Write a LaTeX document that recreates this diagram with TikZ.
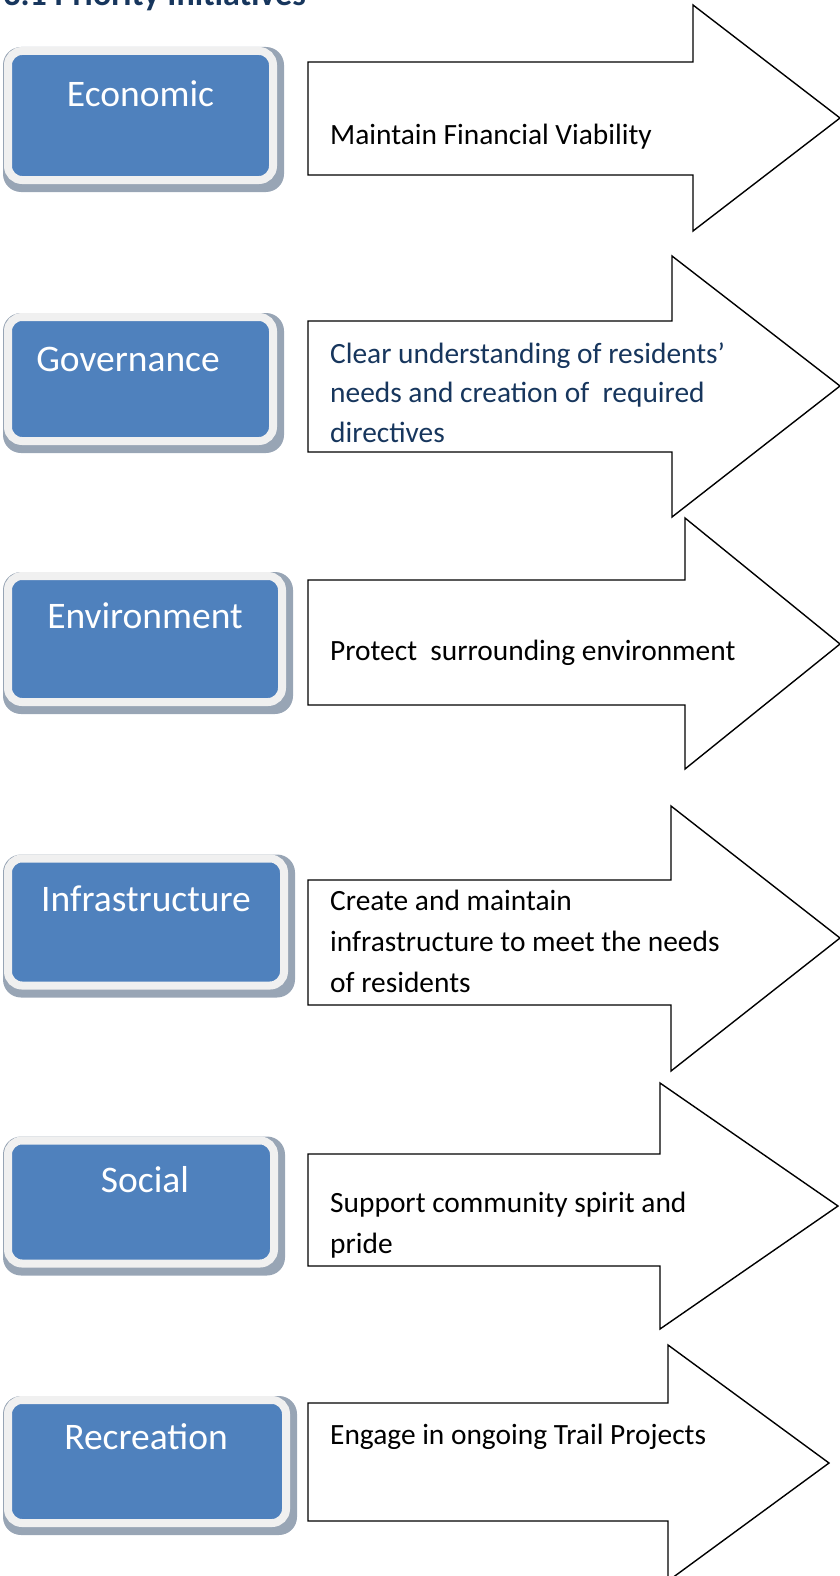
\documentclass[tikz,border=0pt]{standalone}
\usepackage{fontspec}
\setmainfont{Carlito}
\usetikzlibrary{calc,backgrounds}
\definecolor{boxblue}{HTML}{4F81BD}
\definecolor{framegray}{HTML}{F0F0F0}
\definecolor{shadowgray}{HTML}{98A5B5}
\definecolor{navy}{HTML}{17365D}
\begin{document}
\begin{tikzpicture}[x=1pt,y=-1pt,
  catbox/.style={rounded corners=14pt, fill=boxblue, draw=framegray, line width=8pt, inner sep=0pt},
  catlabel/.style={text=white, font=\fontsize{37.5}{40}\selectfont, anchor=base, inner sep=0pt},
  bigarrow/.style={draw=black, line width=1.4pt, fill=white, line join=miter},
  desc/.style={font=\fontsize{29.4}{40}\selectfont, anchor=base west, inner sep=0pt, align=left},
  shadowbox/.style={fill=shadowgray, rounded corners=18pt}]
\useasboundingbox (0,0) rectangle (840,1576);
\clip (0,0) rectangle (840,1576);

% title (clipped at top)
\node[font=\bfseries\fontsize{34}{40}\selectfont, text=navy, anchor=base east, inner sep=0pt] (title) at (306,6) {3.1 Priority Initiatives};

% category boxes
\node[catbox, minimum width=265, minimum height=129] (b1) at (140.5,115.5) {};
\node[catbox, minimum width=265, minimum height=124] (b2) at (140.5,379) {};
\node[catbox, minimum width=274, minimum height=126] (b3) at (145,639) {};
\node[catbox, minimum width=276, minimum height=127] (b4) at (146,922) {};
\node[catbox, minimum width=266, minimum height=123] (b5) at (141,1202) {};
\node[catbox, minimum width=278, minimum height=123] (b6) at (147,1461.5) {};

\begin{scope}[on background layer]
  \foreach \b in {b1,b2,b3,b4,b5,b6}
    \fill[shadowbox] ($(\b.north west)+(-1,0)$) rectangle ($(\b.south east)+(7,8)$);
\end{scope}

\node[catlabel] (l1) at (140.5,107) {Economic};
\node[catlabel] (l2) at (128,371) {Governance};
\node[catlabel] (l3) at (145,628) {Environment};
\node[catlabel] (l4) at (146,911) {Infrastructure};
\node[catlabel] (l5) at (145,1192) {Social};
\node[catlabel] (l6) at (146,1449) {Recreation};

% arrows
\draw[bigarrow] (308,62) -- (693,62) -- (693,5) -- (840,118) -- (693,231) -- (693,175) -- (308,175) -- cycle;
\draw[bigarrow] (308,321) -- (672,321) -- (672,256) -- (840,386) -- (672,517) -- (672,452) -- (308,452) -- cycle;
\draw[bigarrow] (308,580) -- (685,580) -- (685,518) -- (840,644) -- (685,769) -- (685,705) -- (308,705) -- cycle;
\draw[bigarrow] (308,880) -- (671,880) -- (671,806) -- (840,938) -- (671,1071) -- (671,1005) -- (308,1005) -- cycle;
\draw[bigarrow] (308,1154) -- (660,1154) -- (660,1083) -- (838,1206) -- (660,1329) -- (660,1266) -- (308,1266) -- cycle;
\draw[bigarrow] (308,1403) -- (668,1403) -- (668,1345) -- (829,1463) -- (668,1581) -- (668,1521) -- (308,1521) -- cycle;

% descriptions
\node[desc] (d1) at (330,144) {Maintain Financial Viability};
\node[desc, text=navy] (d2) at (330,363) {\vtop{\baselineskip=39.5pt\hbox{Clear understanding of residents’}\hbox{needs and creation of\ \ required}\hbox{directives}}};
\node[desc] (d3) at (330,660) {Protect\ \ surrounding environment};
\node[desc] (d4) at (330,910) {\vtop{\baselineskip=41pt\hbox{Create and maintain}\hbox{infrastructure to meet the needs}\hbox{of residents}}};
\node[desc] (d5) at (330,1212) {\vtop{\baselineskip=41pt\hbox{Support community spirit and}\hbox{pride}}};
\node[desc] (d6) at (330,1444) {Engage in ongoing Trail Projects};
\end{tikzpicture}
\end{document}
